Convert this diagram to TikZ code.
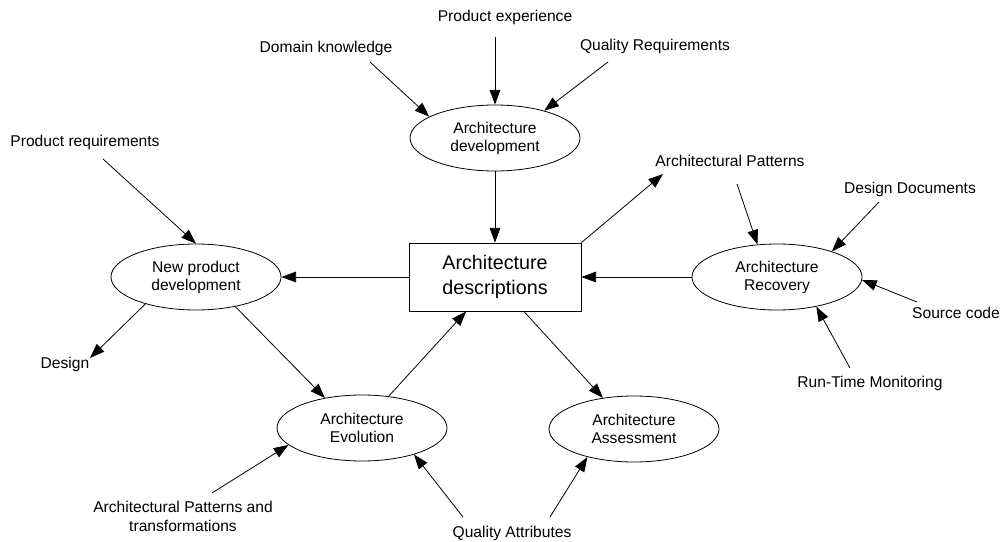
\documentclass[tikz,border=0pt]{standalone}
\usepackage{fontspec}
\setmainfont{Liberation Sans}
\usetikzlibrary{arrows.meta,calc,shapes.geometric}

\begin{document}
\begin{tikzpicture}[x=0.75pt,y=-0.75pt,
  proc/.style={draw, ellipse, line width=0.6pt, minimum width=127.5pt, minimum height=49.5pt, inner sep=0pt, align=center, font=\fontsize{11.7}{13.5}\selectfont},
  docbox/.style={draw, rectangle, line width=0.6pt, minimum width=129pt, minimum height=51pt, inner sep=0pt, align=center, font=\fontsize{14.8}{18.8}\selectfont},
  lbl/.style={inner sep=1pt, align=center, font=\fontsize{11.7}{14.2}\selectfont},
  line/.style={line width=0.6pt, -{Triangle[length=11pt,width=8pt]}}
]
\useasboundingbox (0,0) rectangle (1003,542);

% main blocks
\node[docbox] (desc) at (495,277) {Architecture\\descriptions};
\node[proc] (adev) at (495,138) {Architecture\\development};
\node[proc] (npd) at (196,277) {New product\\development};
\node[proc] (rec) at (777,277) {Architecture\\Recovery};
\node[proc] (evo) at (362,428) {Architecture\\Evolution};
\node[proc] (assess) at (634,429) {Architecture\\Assessment};

% inputs and outputs
\node[lbl] (pe) at (505,17) {Product experience};
\node[lbl] (dk) at (326,48) {Domain knowledge};
\node[lbl] (qr) at (655,46) {Quality Requirements};
\node[lbl] (pr) at (85,142) {Product requirements};
\node[lbl] (ap) at (730,161) {Architectural Patterns};
\node[lbl] (dd) at (910,189) {Design Documents};
\node[lbl] (sc) at (956,313) {Source code};
\node[lbl] (rtm) at (870,383) {Run-Time Monitoring};
\node[lbl] (dsg) at (65,364) {Design};
\node[lbl] (apt) at (183,516) {Architectural Patterns and\\transformations};
\node[lbl] (qa) at (512,533) {Quality Attributes};

\draw[line] ($(pe)+(-10,20)$) -- (adev.north);
\draw[line] ($(dk)+(44,14)$) -- (adev.162);
\draw[line] ($(qr)+(-47,16)$) -- (adev.29);
\draw[line] (adev) -- (desc);
\draw[line] ($(pr)+(18,17)$) -- (npd.north);
\draw[line] (desc) -- (npd);
\draw[line] (desc.north east) -- ($(ap)+(-67,13)$);
\draw[line] ($(ap)+(7,23)$) -- (rec.121);
\draw[line] ($(dd)+(-31,13)$) -- (rec.25);
\draw[line] ($(sc)+(-39,-11)$) -- (rec.-2);
\draw[line] ($(rtm)+(-20,-15)$) -- (rec.-37);
\draw[line] (rec) -- (desc);
\draw[line] (npd.-152) -- ($(dsg)+(25,-6)$);
\draw[line] (npd.-37) -- (evo.141);
\draw[line] (evo.50) -- (desc.-130);
\draw[line] (desc.-50) -- (assess.135);
\draw[line] ($(apt)+(29,-23)$) -- (evo.-167);
\draw[line] ($(qa)+(-49,-16)$) -- (evo.-27);
\draw[line] ($(qa)+(38,-16)$) -- (assess.-149);
\end{tikzpicture}
\end{document}
